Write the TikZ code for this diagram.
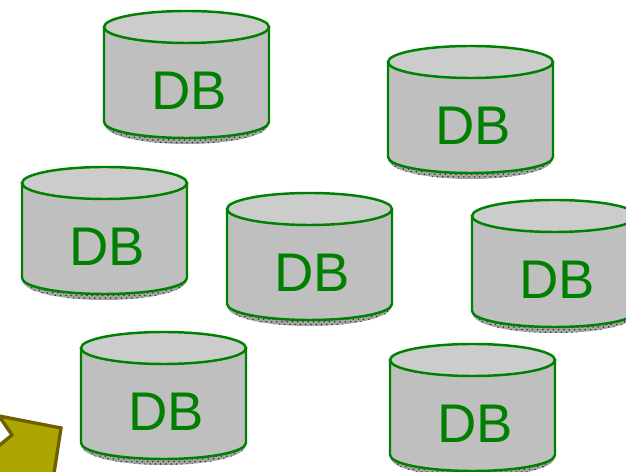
\documentclass[tikz,border=0pt]{standalone}
\usepackage{fontspec}
\setmainfont{Liberation Sans}
\usetikzlibrary{patterns}
\definecolor{dbgreen}{HTML}{008000}
\definecolor{dbbody}{HTML}{BFBFBF}
\definecolor{dbtop}{HTML}{CCCCCC}
\definecolor{arrowfill}{HTML}{ADA500}
\definecolor{arrowline}{HTML}{6E6000}
\tikzset{
    dbline/.style={draw=dbgreen, line width=1.4pt},
    dblabel/.style={text=dbgreen, font=\fontsize{31}{31}\selectfont, inner sep=0pt},
    dbshadow/.style={fill=black!35, postaction={pattern=crosshatch dots, pattern color=black!80}},
}
\begin{document}
\begin{tikzpicture}[x=0.02cm, y=-0.02cm]
    \newcommand*{\dbwidth}{165}
    \newcommand*{\dbheight}{95}
    \newcommand*{\dbry}{16}
    \clip (0, 0) rectangle (626, 472);
    \foreach \name/\x/\y in {a/104/27, b/388/62, c/22/183, d/227/209, e/472/216, f/81/348, g/390/360} {
        \fill[dbshadow] (\x+1, \y+\dbheight+3) arc[start angle=180, end angle=360, x radius=\dbwidth/2-1, y radius=-\dbry-3] -- cycle;
        \draw[dbline, fill=dbbody] (\x, \y) -- (\x, \y+\dbheight) arc[start angle=180, end angle=360, x radius=\dbwidth/2, y radius=-\dbry] -- (\x+\dbwidth, \y) -- cycle;
        \draw[dbline, fill=dbtop] (\x+\dbwidth/2, \y) ellipse[x radius=\dbwidth/2, y radius=\dbry];
        \node[dblabel] (db\name) at (\x+85, \y+64) {DB};
    }
    \draw[draw=arrowline, fill=arrowfill, line width=1.9pt, line join=miter] (-1, 416) -- (61, 428) -- (53, 480) -- (-5, 480) -- (-5, 449) -- (12, 435) -- cycle;
\end{tikzpicture}
\end{document}
